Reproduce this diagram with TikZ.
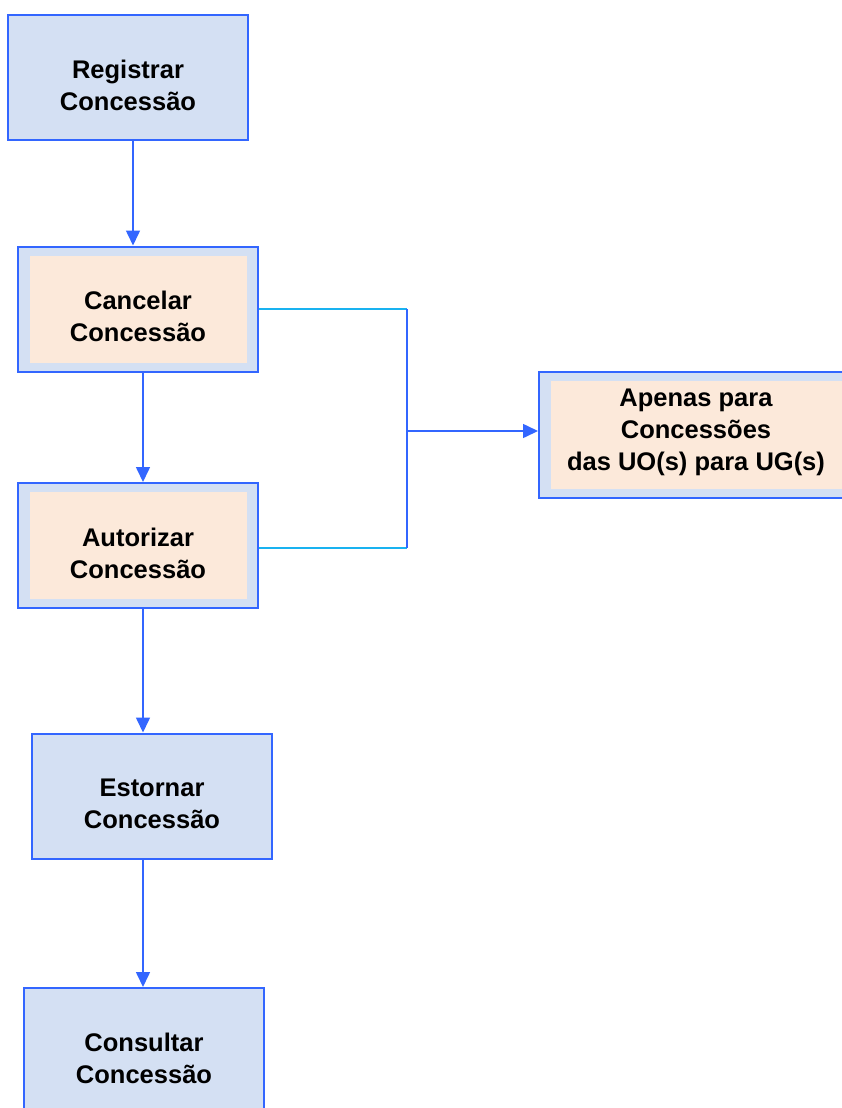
\documentclass[tikz,border=0pt]{standalone}
\usepackage{fontspec}
\setmainfont{Liberation Sans}
\usetikzlibrary{arrows.meta}

\definecolor{azulborda}{HTML}{3366FF}
\definecolor{azulfundo}{HTML}{D4E0F3}
\definecolor{pessego}{HTML}{FCE9DA}
\definecolor{ciano}{HTML}{19B2F0}

\begin{document}
\begin{tikzpicture}[x=1pt,y=1pt,
    caixa/.style={draw=azulborda, line width=2pt, fill=azulfundo, minimum width=240pt,
      minimum height=125pt, align=center, font=\fontsize{25.5}{32}\selectfont\bfseries,
      text height=70pt, text depth=5pt},
    destaque/.style={caixa, path picture={\fill[pessego]
      ([shift={(12pt,-9pt)}]path picture bounding box.north west) rectangle
      ([shift={(-11pt,9pt)}]path picture bounding box.south east);}},
    seta/.style={azulborda, line width=1.6pt, -{Triangle[length=15pt,width=14pt]}},
    ligacao/.style={ciano, line width=1.6pt}]
    % Area visivel do desenho
    \useasboundingbox (0,0) rectangle (842,-1108);
    \clip (0,0) rectangle (842,-1108);

    % Fluxo principal
    \node[caixa] (reg) at (128,-77.5) {Registrar\\Concessão};
    \node[destaque] (canc) at (138,-309) {Cancelar\\Concessão};
    \node[destaque] (aut) at (138,-545.5) {Autorizar\\Concessão};
    \node[caixa] (est) at (152,-796) {Estornar\\Concessão};
    \node[caixa] (cons) at (144,-1050.5) {Consultar\\Concessão};

    % Observacao ao lado
    \node[destaque, minimum width=314pt, minimum height=126pt,
      text height=82.6pt, text depth=12.6pt] (obs)
      at (696,-435) {Apenas para\\Concessões\\das UO(s) para UG(s)};

    % Setas entre as etapas
    \draw[seta] (reg.south -| 133,0) -- (canc.north -| 133,0);
    \draw[seta] (canc.south -| 143,0) -- (aut.north -| 143,0);
    \draw[seta] (aut.south -| 143,0) -- (est.north -| 143,0);
    \draw[seta] (est.south -| 143,0) -- (cons.north -| 143,0);

    % Ligacao com a observacao
    \coordinate (junta) at (407,-431);
    \draw[ligacao] (canc.east) -- (canc.east -| junta);
    \draw[ligacao] ([yshift=-2.5pt]aut.east) -- ([yshift=-2.5pt]aut.east -| junta);
    \draw[azulborda, line width=1.6pt] (canc.east -| junta) -- ([yshift=-2.5pt]aut.east -| junta);
    \draw[seta] (junta) -- (obs.west |- junta);
\end{tikzpicture}
\end{document}
